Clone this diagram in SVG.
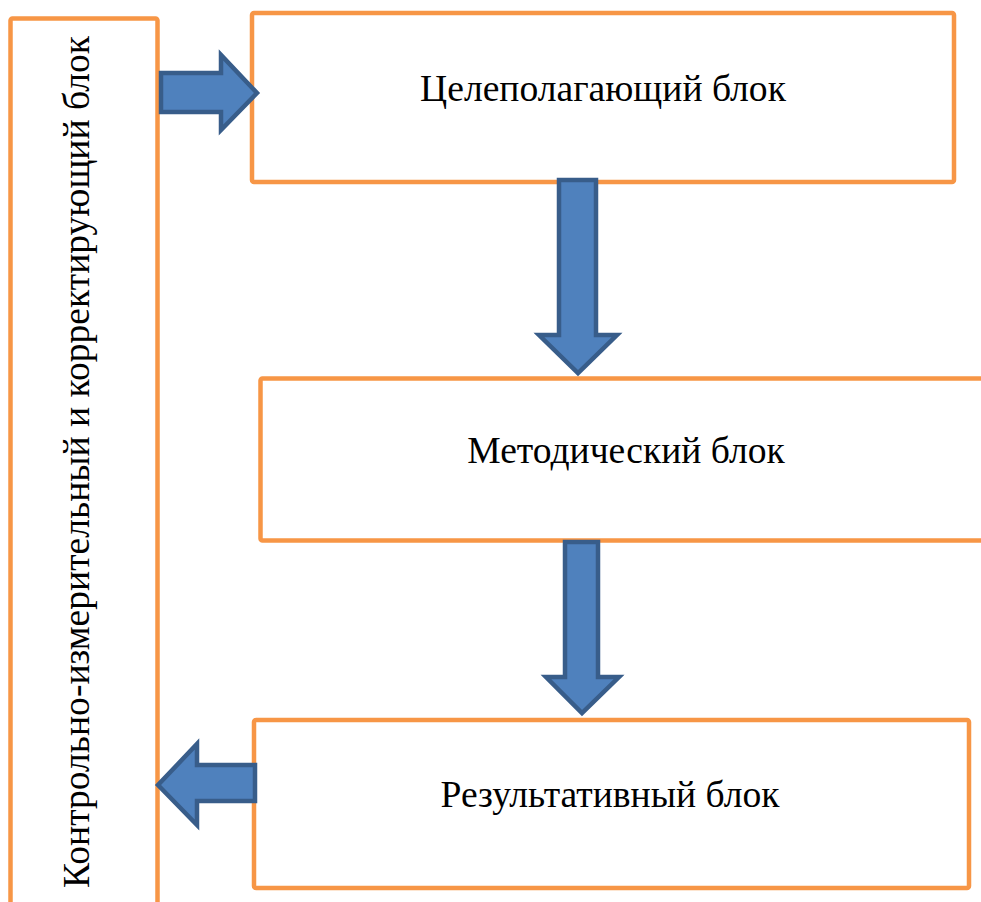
<svg xmlns="http://www.w3.org/2000/svg" width="981" height="902" viewBox="0 0 981 902">
<style>
.box{fill:#fff;stroke:#F79646;stroke-width:4.5}
.arr{fill:#4F81BD;stroke:#385D8A;stroke-width:4.5;stroke-linejoin:miter}
.t{font-family:"Liberation Serif","Times New Roman",serif;font-size:37.6px;fill:#000;text-anchor:middle}
</style>
<rect width="981" height="902" fill="#fff"/>
<g id="control">
<rect class="box" x="10.5" y="18.5" width="147" height="900" rx="2"/>
<text class="t" transform="translate(89,462) rotate(-90)">Контрольно-измерительный и корректирующий блок</text>
</g>
<g id="goal">
<rect class="box" x="252" y="13" width="702" height="169" rx="2"/>
<text class="t" x="603" y="101">Целеполагающий блок</text>
</g>
<g id="method">
<rect class="box" x="260.5" y="378.5" width="760" height="162" rx="2"/>
<text class="t" x="626" y="463">Методический блок</text>
</g>
<g id="result">
<rect class="box" x="254" y="720" width="715" height="168" rx="2"/>
<text class="t" x="610" y="807">Результативный блок</text>
</g>
<g id="connectors">
<path class="arr" d="M161,73 L221,73 L221,55 L257,93 L221,130 L221,112 L161,112 Z"/>
<path class="arr" d="M559,180 L596,180 L596,335 L617,335 L578,373 L539,335 L559,335 Z"/>
<path class="arr" d="M565,542 L598,542 L598,677 L619,677 L582,713 L546,677 L565,677 Z"/>
<path class="arr" d="M255,765 L197,765 L197,744 L158,785 L197,825 L197,801 L255,801 Z"/>
</g>
</svg>
